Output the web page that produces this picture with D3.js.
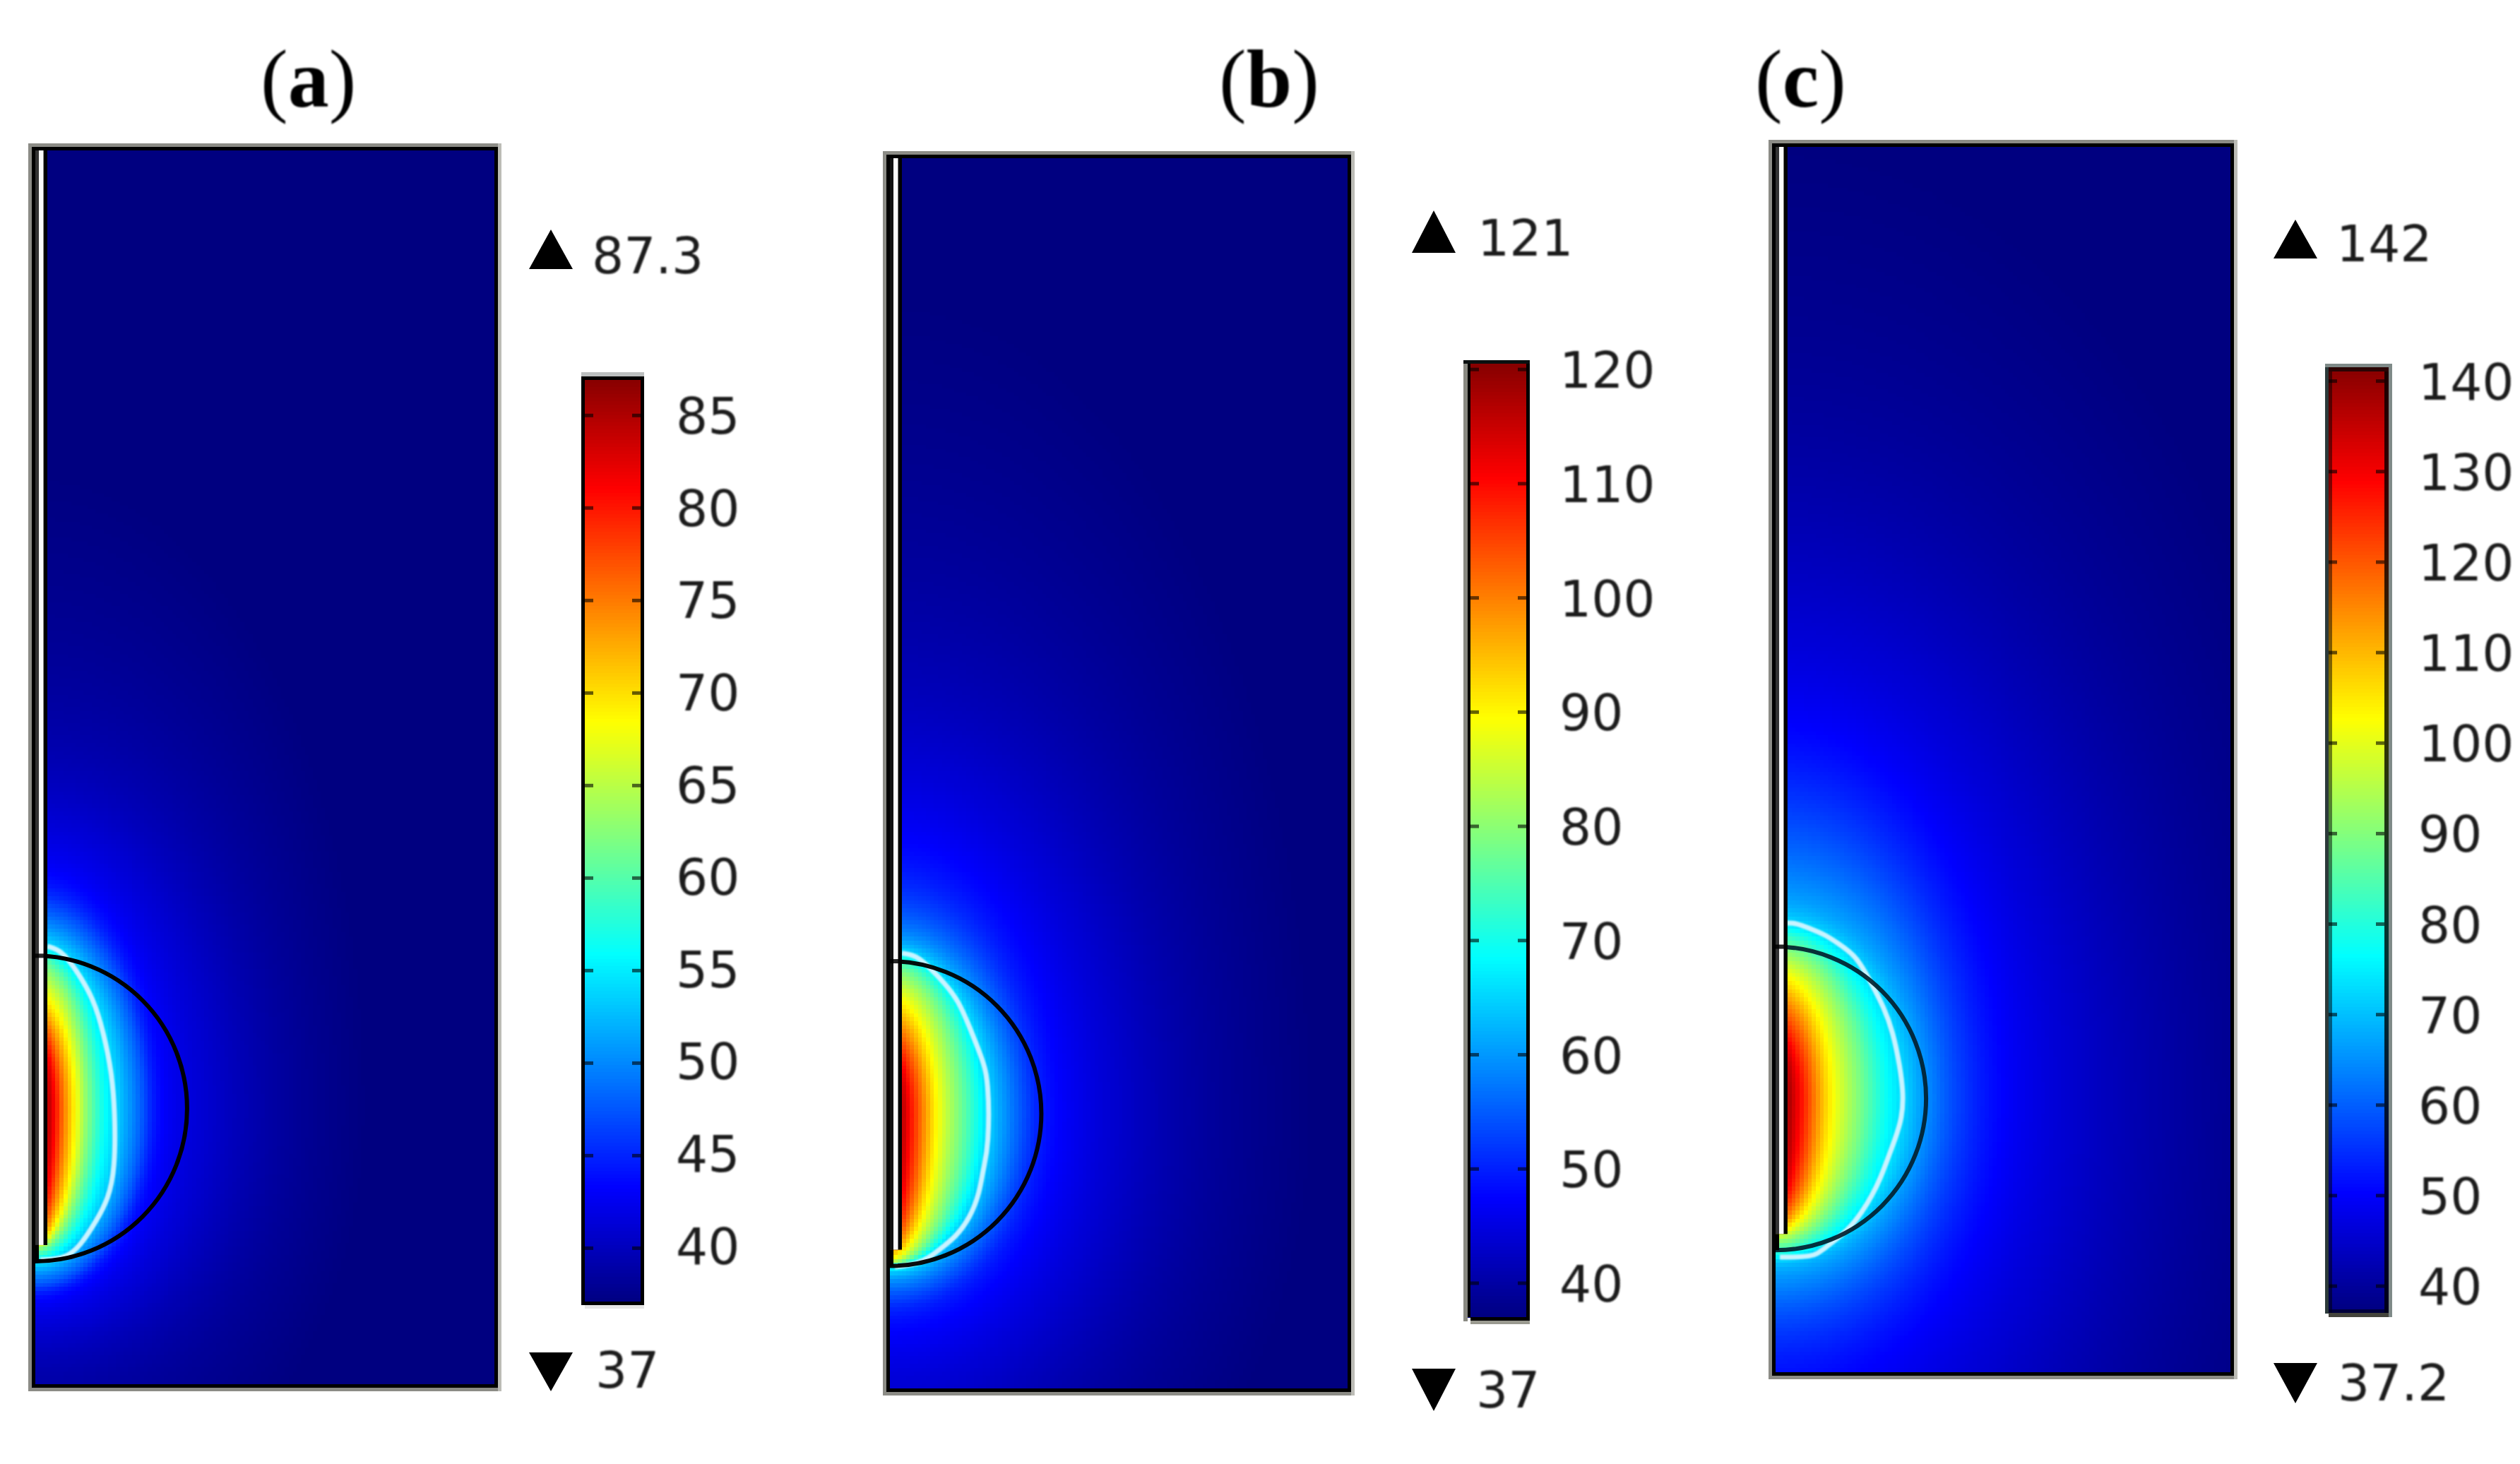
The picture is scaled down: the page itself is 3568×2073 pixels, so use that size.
<!DOCTYPE html>
<html><head><meta charset="utf-8">
<script src="https://cdn.jsdelivr.net/npm/d3@7"></script>
<style>
html,body{margin:0;padding:0;background:#fff;width:3568px;height:2073px;overflow:hidden}
#stage{position:relative;width:3568px;height:2073px}
canvas{position:absolute;image-rendering:pixelated}
svg{position:absolute;left:0;top:0}
</style></head><body><div id="stage"></div>
<script>
// Jet colour map
const jetStops=[0,.125,.375,.625,.875,1];
const jetColors=["#000080","#0000ff","#00ffff","#ffff00","#ff0000","#800000"];
// Panel titles
const titleLetters=["a","b","c"];
// Colour bar ranges and tick labels
const maxLabels=["87.3","121","142"];
const minLabels=["37","37","37.2"];
const tempMax=[87.3,121,142];
const tempMin=[37,37,37.2];
const ticksA=[85,80,75,70,65,60,55,50,45,40];
const ticksB=[120,110,100,90,80,70,60,50,40];
const ticksC=[140,130,120,110,100,90,80,70,60,50,40];
// Isotherms: temperature, radial semi-axis (mm), extent above and below the tumour centre (mm)
const isoTA=[87.3,84.8,81.0,74.7,68.4,62.2,55.9,54.1,49.6,47.1,43.3,41.5,39.5,38.0,37.0];
const isoRA=[.46,.78,1.28,1.83,2.61,3.35,4.45,5.18,6.42,7.11,7.80,9.95,13.6,17.0,21.5];
const isoUpA=[2.75,3.67,4.59,5.96,7.34,9.40,10.32,10.64,12.02,13.07,14.68,18.0,21.5,29.0,41.0];
const isoDnA=[4.13,5.28,6.88,8.26,8.72,9.04,9.72,9.91,10.78,11.47,12.02,13.76,16.0,20.0,28.0];
const isoTB=[121,116.8,110.1,100,89.5,79,68.9,64.7,58.8,52.1,47.5,42,38.7,37];
const isoRB=[.46,.78,1.28,2.16,2.98,4.45,5.83,6.42,7.66,9.04,10.32,16.06,21.5,27.5];
const isoUpB=[2.75,3.44,4.04,5.73,7.57,9.40,10.32,10.64,11.47,13.76,16.97,25.2,36.7,52.7];
const isoDnB=[4.59,5.96,7.34,8.62,9.40,9.72,9.91,10.18,10.78,12.16,13.30,19.72,26.0,34.0];
const isoTC=[142,138.9,128.4,115.8,102.7,89.6,77,73.9,68.6,64.4,50.3,43.5,39.3,37.2];
const isoRC=[.46,.74,1.65,2.57,3.62,5.46,7.16,8.07,9.13,9.95,13.44,21.10,28.44,36.70];
const isoUpC=[2.75,3.44,4.22,6.33,8.07,9.82,11.06,11.33,12.16,13.76,22.48,34.0,45.0,62.0];
const isoDnC=[5.05,5.96,6.88,8.07,8.67,9.31,10.18,10.37,10.78,11.93,16.70,29.36,36.70,45.87];
// White contour, radius and height in mm
const contourRA=[.78,1.69,2.61,3.80,4.44,4.95,5.17,5.17,4.72,3.98,2.89,1.97,.32];
const contourZA=[28.46,28.19,27.0,25.05,22.82,20.36,17.76,14.07,12.16,10.79,9.11,8.33,8.24];
const contourRB=[.78,1.70,2.62,3.54,4.46,5.20,5.97,6.43,6.43,6.06,5.83,5.20,4.27,3.35,2.62,1.70,.32];
const contourZB=[28.37,28.24,27.41,26.45,25.30,23.55,21.62,20.20,15.84,14.42,12.86,11.25,10.01,9.32,8.73,8.26,8.08];
const contourRC=[.74,1.34,2.27,3.19,4.11,5.22,5.96,6.43,7.07,7.67,8.14,8.37,8.28,7.81,7.35,6.89,6.29,5.69,4.90,3.98,3.05,2.45,.28];
const contourZC=[29.39,29.39,29.02,28.66,28.06,27.28,26.04,25.17,23.93,22.37,20.08,18.29,16.74,15.32,14.12,12.88,11.65,10.68,9.63,8.85,8.16,7.70,7.70];
// Model geometry (mm)
const domainR=[0,30], domainZ=[0,80];
const tumourZ=18, tumourRadius=9.85;
const needleR=.78, needleWhiteIn=.23, needleWhiteOut=.53, needleTip=9.2;

// Layout
const panels=[
 {letter:0,ticks:ticksA,isoT:isoTA,isoR:isoRA,isoUp:isoUpA,isoDn:isoDnA,cR:contourRA,cZ:contourZA,
  x:[50,705],y:[1965,208],
  bar:{l:823,r:912,top:538,bot:1843,y0:1846,y1:528,labelY0:1842,labelY1:528,
       edges:[[823,533,5,1315,"#000"],[907,533,5,1315,"#000"],[823,527,89,6,"#bcbfbf"],[823,533,89,5,"#000"],[828,1843,84,5,"#000"],[828,1848,84,5,"#e6e6e6"]]},
  labelX:957,
  tri:{cx:780,upTop:325,upBot:381,dnTop:1915,dnBot:1970},maxX:838,maxY:387,minX:843,minY:1965,
  titleX:369,arc:"#000",arcOp:1,needleDark:"#333"},
 {letter:1,ticks:ticksB,isoT:isoTB,isoR:isoRB,isoUp:isoUpB,isoDn:isoDnB,cR:contourRB,cZ:contourZB,
  x:[1260,1913],y:[1971,219],
  bar:{l:2077,r:2166,top:515,bot:1866,y0:1865.5,y1:507,labelY0:1865.5,labelY1:507,
       edges:[[2072,510,6,1361,"#8a8a82"],[2078,510,4,1355,"#000"],[2161,510,5,1361,"#000"],[2072,510,94,5,"#0a1010"],[2082,1865,84,5,"#000"],[2082,1870,84,5,"#9a9a90"]]},
  labelX:2208,
  tri:{cx:2030,upTop:298,upBot:358,dnTop:1938,dnBot:1998},maxX:2092,maxY:362,minX:2090,minY:1993,
  titleX:1726,arc:"#000",arcOp:.95,needleDark:"#111"},
 {letter:2,ticks:ticksC,isoT:isoTC,isoR:isoRC,isoUp:isoUpC,isoDn:isoDnC,cR:contourRC,cZ:contourZC,
  x:[2514,3163],y:[1948,203],
  bar:{l:3297,r:3382,top:526,bot:1859,y0:1857,y1:514,labelY0:1857,labelY1:514,
       edges:[[3292,515,5,1345,"#2c3a3a"],[3297,526,5,1333,"rgba(0,0,0,.5)"],[3376,526,6,1333,"rgba(0,0,0,.8)"],[3382,515,5,1350,"#7f8a88"],[3292,515,95,5,"#7f8a88"],[3297,520,85,6,"#2a0404"],[3297,1854,85,5,"rgba(0,0,30,.7)"],[3297,1859,85,6,"#44443c"]]},
  labelX:3424,
  tri:{cx:3250,upTop:311,upBot:366,dnTop:1930,dnBot:1987},maxX:3308,maxY:370,minX:3310,minY:1983,
  titleX:2485,arc:"#02202e",arcOp:.92,needleDark:"#333"}
];
const CELL=5.7, BORDER=5;
const textColor="#1c1c1c";

const stage=d3.select("#stage");
const svg=stage.append("svg").attr("width",3568).attr("height",2073);
svg.append("defs").append("filter").attr("id","soft")
 .attr("x","-5%").attr("y","-5%").attr("width","110%").attr("height","110%")
 .append("feGaussianBlur").attr("stdDeviation",0.9);

panels.forEach((p,pi)=>{
 const xs=d3.scaleLinear().domain(domainR).range(p.x);
 const ys=d3.scaleLinear().domain(domainZ).range(p.y);
 const lo=tempMin[pi], hi=tempMax[pi];
 const color=d3.scaleLinear().domain(jetStops.map(s=>lo+s*(hi-lo))).range(jetColors).interpolate(d3.interpolateRgb).clamp(true);
 const sR=d3.interpolateBasis(p.isoR), sUp=d3.interpolateBasis(p.isoUp), sDn=d3.interpolateBasis(p.isoDn), sT=d3.interpolateBasis(p.isoT);
 function temperature(r,z){
  const dz=z-tumourZ, sZ=dz>0?sUp:sDn;
  const g=u=>{const a=r/sR(u),b=dz/sZ(u);return a*a+b*b;};
  if(g(0)<1) return hi;
  if(g(1)>1) return lo;
  let a=0,b=1;
  for(let i=0;i<14;i++){const m=(a+b)/2; if(g(m)>1)a=m; else b=m;}
  return sT((a+b)/2);
 }
 // Field raster
 const W=Math.round((p.x[1]-p.x[0])/CELL), H=Math.round((p.y[0]-p.y[1])/CELL);
 const cv=stage.insert("canvas","svg").attr("width",W).attr("height",H)
   .style("left",p.x[0]+"px").style("top",p.y[1]+"px")
   .style("width",(p.x[1]-p.x[0])+"px").style("height",(p.y[0]-p.y[1])+"px").node();
 const ctx=cv.getContext("2d"), img=ctx.createImageData(W,H);
 const ix=d3.scaleLinear().domain([0,W]).range([p.x[0],p.x[1]]);
 const iy=d3.scaleLinear().domain([0,H]).range([p.y[1],p.y[0]]);
 const lut=d3.range(512).map(i=>d3.rgb(color(lo+(hi-lo)*i/511)));
 for(let j=0;j<H;j++)for(let i=0;i<W;i++){
  const T=temperature(xs.invert(ix(i+.5)),ys.invert(iy(j+.5)));
  const f=Math.max(0,Math.min(1,(T-lo)/(hi-lo)));
  const c=lut[Math.round(f*511)], k=(j*W+i)*4;
  img.data[k]=c.r;img.data[k+1]=c.g;img.data[k+2]=c.b;img.data[k+3]=255;
 }
 ctx.putImageData(img,0,0);

 const g=svg.append("g");
 // White contour
 const line=d3.line().x(d=>xs(d[0])).y(d=>ys(d[1])).curve(d3.curveBasis);
 g.append("path").attr("d",line(p.cR.map((r,i)=>[r,p.cZ[i]])))
  .attr("fill","none").attr("stroke","#c9f3ff").attr("stroke-width",7).attr("filter","url(#soft)");
 // Tumour boundary
 const cy=ys(tumourZ), rx=xs(tumourRadius)-xs(0), ry=ys(0)-ys(tumourRadius);
 g.append("path")
  .attr("d",`M${xs(0)},${cy-ry}A${rx},${ry} 0 0 1 ${xs(0)},${cy+ry}`)
  .attr("fill","none").attr("stroke",p.arc).attr("stroke-opacity",p.arcOp).attr("stroke-width",6);
 // Needle
 const nt=ys(needleTip), top=p.y[1];
 g.append("rect").attr("x",xs(0)-BORDER).attr("y",top).attr("width",xs(needleR)-xs(0)+BORDER).attr("height",nt-top).attr("fill","#000");
 g.append("rect").attr("x",xs(0)).attr("y",top).attr("width",xs(needleWhiteIn)-xs(0)).attr("height",nt-top).attr("fill",p.needleDark);
 g.append("rect").attr("x",xs(needleWhiteIn)).attr("y",top).attr("width",xs(needleWhiteOut)-xs(needleWhiteIn)).attr("height",nt-top).attr("fill","#fafafa");
 // Needle tip stem down to the boundary
 g.append("rect").attr("x",xs(0)).attr("y",nt).attr("width",xs(needleWhiteIn)-xs(0)).attr("height",cy+ry-nt).attr("fill","#000");
 // Boundary crossing over the needle
 g.append("rect").attr("x",xs(0)-BORDER).attr("y",cy-ry-3).attr("width",xs(needleR)-xs(0)+BORDER).attr("height",6).attr("fill","#000").attr("fill-opacity",.85);
 // Frame
 const fl=xs(0)-BORDER, fr=p.x[1], ft=p.y[1], fb=p.y[0];
 const grayFrame="#8c8c86", grayRight="#bcbcb6";
 [[fl-BORDER,ft-BORDER,fr-fl+2*BORDER,BORDER,grayFrame],[fl-BORDER,fb,fr-fl+2*BORDER,BORDER,grayFrame],
  [fl-BORDER,ft-BORDER,BORDER,fb-ft+2*BORDER,grayFrame],[fr,ft-BORDER,BORDER,fb-ft+2*BORDER,grayRight]]
  .forEach(e=>g.append("rect").attr("x",e[0]).attr("y",e[1]).attr("width",e[2]).attr("height",e[3]).attr("fill",e[4]));
 g.append("rect").attr("x",fl+BORDER/2).attr("y",ft+BORDER/2).attr("width",fr-fl-BORDER).attr("height",fb-ft-BORDER)
  .attr("fill","none").attr("stroke","#000").attr("stroke-width",BORDER);

 // Title
 const title=svg.append("text").attr("x",p.titleX).attr("y",151).attr("filter","url(#soft)")
  .attr("font-family","'Liberation Serif'").attr("font-size",116).attr("fill","#000");
 title.append("tspan").text("(");
 title.append("tspan").attr("font-weight","bold").text(titleLetters[p.letter]);
 title.append("tspan").text(")");

 // Colour bar
 const b=p.bar;
 const barY=d3.scaleLinear().domain([lo,hi]).range([b.y0,b.y1]);
 const steps=d3.range(b.top,b.bot,5);
 svg.append("g").selectAll("rect").data(steps).join("rect")
  .attr("x",b.l).attr("width",b.r-b.l).attr("y",d=>d).attr("height",d=>Math.min(5.5,b.bot-d))
  .attr("fill",d=>color(barY.invert(d+2.5)));
 svg.append("g").selectAll("rect").data(b.edges).join("rect")
  .attr("x",d=>d[0]).attr("y",d=>d[1]).attr("width",d=>d[2]).attr("height",d=>d[3]).attr("fill",d=>d[4]);
 // Labels through a D3 axis
 const labelY=d3.scaleLinear().domain([lo,hi]).range([b.labelY0,b.labelY1]);
 const axis=d3.axisRight(labelY).tickValues(p.ticks).tickSize(0).tickPadding(0).tickFormat(d3.format("d"));
 const ag=svg.append("g").attr("transform",`translate(${p.labelX},0)`).call(axis);
 ag.select(".domain").remove();
 ag.selectAll("text").attr("x",0).attr("dy",".36em").attr("text-anchor","start").attr("filter","url(#soft)")
  .attr("font-family","'DejaVu Sans'").attr("font-size",71).attr("fill",textColor);
 const tg=svg.append("g");
 const inL=pi===0?828:pi===1?2082:3297, inR=pi===0?907:pi===1?2161:3376;
 [[inL,12],[inR,-12]].forEach(([x0,l])=>{
  tg.append("g").selectAll("line").data(p.ticks).join("line")
   .attr("x1",x0).attr("x2",x0+l).attr("y1",d=>barY(d)).attr("y2",d=>barY(d))
   .attr("stroke","#000").attr("stroke-opacity",.6).attr("stroke-width",5);
 });

 // Max/min markers
 const t=p.tri, hw=31;
 svg.append("path").attr("d",`M${t.cx-hw},${t.upBot}L${t.cx},${t.upTop}L${t.cx+hw},${t.upBot}Z`).attr("fill","#000");
 svg.append("path").attr("d",`M${t.cx-hw},${t.dnTop}L${t.cx},${t.dnBot}L${t.cx+hw},${t.dnTop}Z`).attr("fill","#000");
 svg.append("text").attr("x",p.maxX).attr("y",p.maxY).attr("filter","url(#soft)").attr("font-family","'DejaVu Sans'").attr("font-size",71).attr("fill",textColor).text(maxLabels[pi]);
 svg.append("text").attr("x",p.minX).attr("y",p.minY).attr("filter","url(#soft)").attr("font-family","'DejaVu Sans'").attr("font-size",71).attr("fill",textColor).text(minLabels[pi]);
});
</script></body></html>
